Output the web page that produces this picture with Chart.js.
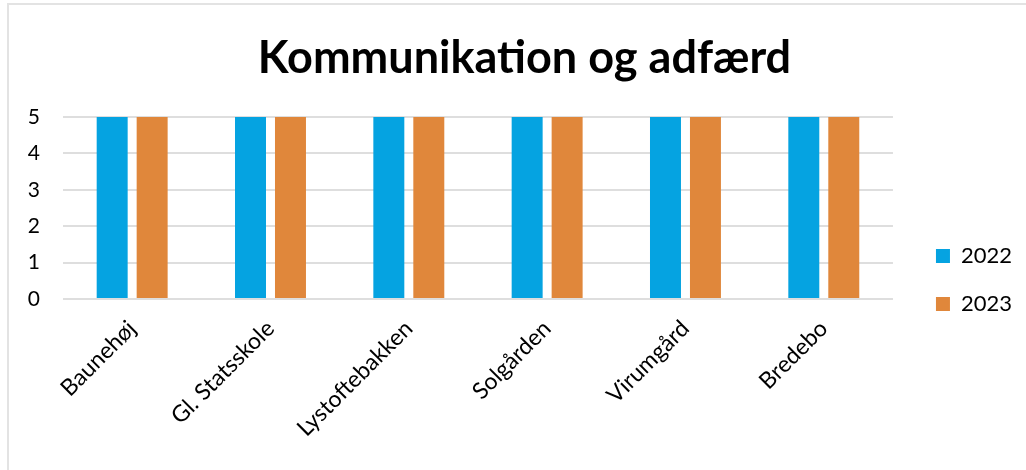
<!DOCTYPE html>
<html>
<head>
<meta charset="utf-8">
<script src="https://cdn.jsdelivr.net/npm/chart.js@4/dist/chart.umd.min.js"></script>
<style>
  html, body { margin: 0; padding: 0; background: #fff; }
  #wrap { position: relative; width: 1026px; height: 470px; }
  #frame { position: absolute; left: 7px; top: 3px; right: 0; bottom: 0; border-top: 2px solid #e3e3e3; border-left: 2px solid #e3e3e3; pointer-events: none; }
</style>
</head>
<body>
<div id="wrap">
  <canvas id="chart" width="1026" height="470"></canvas>
  <div id="frame"></div>
</div>
<script>
// Chart content
const TITLE = 'Kommunikation og adfærd';
const SCHOOLS = ['Baunehøj', 'Gl. Statsskole', 'Lystoftebakken', 'Solgården', 'Virumgård', 'Bredebo'];
const VALUES_2022 = [5, 5, 5, 5, 5, 5];
const VALUES_2023 = [5, 5, 5, 5, 5, 5];
const SERIES_LABELS = ['2022', '2023'];
const Y_TICKS = [0, 1, 2, 3, 4, 5];

const BLUE = '#05A3E1';
const ORANGE = '#E0873B';
const GRID = '#dedede';
const FONT = 'Lato, "Open Sans", sans-serif';

// the original puts the legend further right/lower and the title a bit right of centre
const nudgeBoxes = {
  id: 'nudgeBoxes',
  afterLayout(chart) {
    const lg = chart.legend;
    if (lg) {
      lg.left += 17; lg.right += 17;
      lg.top += 45; lg.bottom += 45;
    }
    const tb = chart.titleBlock;
    if (tb) { tb.left += 18; tb.right += 18; }
  },
};

new Chart(document.getElementById('chart'), {
  type: 'bar',
  data: {
    labels: SCHOOLS,
    datasets: [
      { label: SERIES_LABELS[0], data: VALUES_2022, backgroundColor: BLUE },
      { label: SERIES_LABELS[1], data: VALUES_2023, backgroundColor: ORANGE },
    ],
  },
  options: {
    responsive: false,
    animation: false,
    datasets: { bar: { categoryPercentage: 0.578, barPercentage: 0.775 } },
    layout: { padding: { left: 8, right: 21, top: 0, bottom: 0 } },
    plugins: {
      title: {
        display: true,
        text: TITLE,
        color: '#000',
        font: { family: FONT, size: 45, weight: 'bold', lineHeight: 1.2 },
        padding: { top: 31, bottom: 32 },
      },
      legend: {
        position: 'right',
        labels: {
          color: '#000',
          font: { family: FONT, size: 22 },
          boxWidth: 14,
          boxHeight: 14,
          padding: 26,
        },
      },
      tooltip: { enabled: false },
    },
    scales: {
      x: {
        grid: { display: false },
        border: { display: false },
        ticks: {
          color: '#000',
          font: { family: FONT, size: 23 },
          minRotation: 45,
          maxRotation: 45,
          padding: 8,
        },
        afterFit(scale) { scale.height = 171; },
      },
      y: {
        min: 0,
        max: 5,
        afterBuildTicks(scale) { scale.ticks = Y_TICKS.map((v) => ({ value: v })); },
        grid: { color: GRID, lineWidth: 2, drawTicks: false },
        border: { display: false },
        ticks: {
          color: '#000',
          font: { family: FONT, size: 21 },
          padding: 23,
        },
        afterFit(scale) { scale.width = 55; },
      },
    },
  },
  plugins: [nudgeBoxes],
});
</script>
</body>
</html>
